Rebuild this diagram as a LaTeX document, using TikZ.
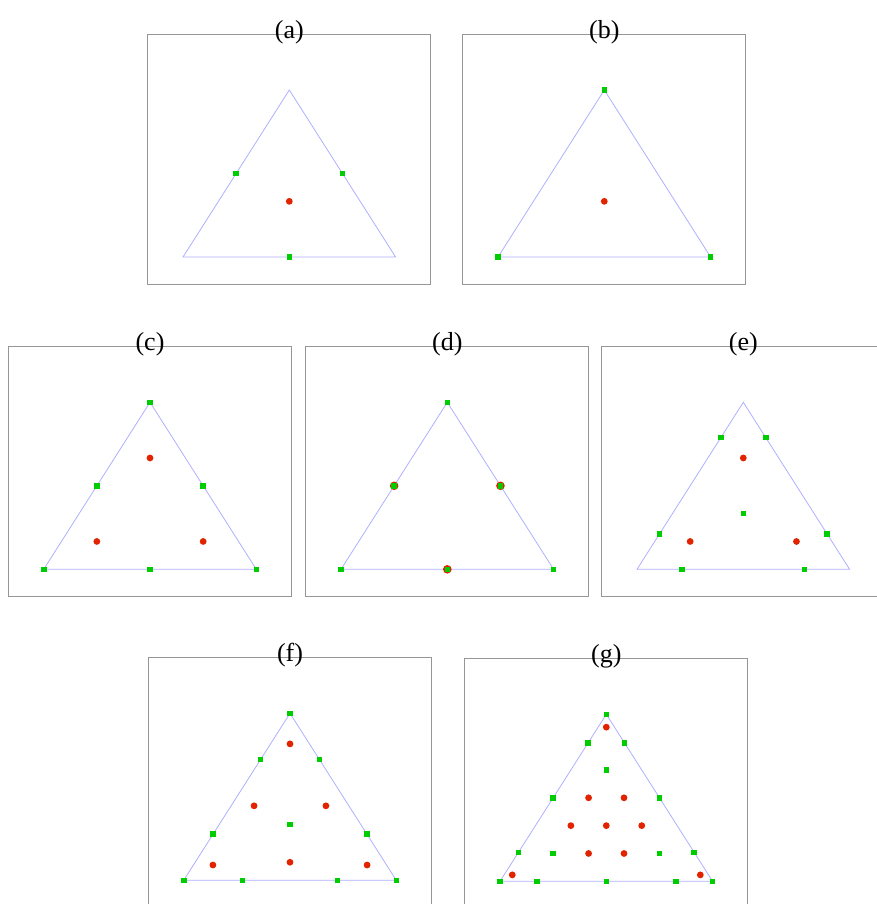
\documentclass[tikz,border=0pt]{standalone}
\usepackage{fontspec}
\setmainfont{Liberation Serif}
\definecolor{ptgreen}{RGB}{0,205,0}
\definecolor{ptred}{RGB}{225,35,0}
\definecolor{triblue}{RGB}{175,175,255}
\definecolor{framegray}{RGB}{150,150,150}
\tikzset{
  panelframe/.style={draw=framegray, line width=0.9pt},
  triline/.style={draw=triblue, line width=0.8pt},
  paneltitle/.style={anchor=base, inner sep=0pt, font=\fontsize{26}{30}\selectfont},
}
% barycentric helpers: #1 = weight of right vertex, #2 = weight of apex
\newcommand{\gsq}[2]{\fill[ptgreen] ({212.6*(#1+#2/2)-2.8},{167*(#2)-2.8}) rectangle ++(5.6,5.6);}
\newcommand{\rdot}[2]{\fill[ptred] ({212.6*(#1+#2/2)},{167*(#2)}) circle (3.4);}
\newcommand{\rring}[2]{\fill[ptred] ({212.6*(#1+#2/2)},{167*(#2)}) circle (4.3);}
\newcommand{\tripanel}[4]{%
  \draw[panelframe] (#1,#2) rectangle ++(283.5,250);
  \node[paneltitle] (#3) at ({#1+142},{#2+4.5}) {(#3)};
  \begin{scope}[shift={({#1+142-106.3},{#2+223})}, y=1pt]
    \draw[triline] (0,0) -- (212.6,0) -- (106.3,167) -- cycle;
    #4
  \end{scope}}
\begin{document}
\begin{tikzpicture}[x=1pt,y=-1pt]
\useasboundingbox (0,0) rectangle (877,904);
\clip (0,0) rectangle (877,904);
% (a)
\tripanel{147.3}{34}{a}{%
  \gsq{0.5}{0}\gsq{0}{0.5}\gsq{0.5}{0.5}
  \rdot{0.3333}{0.3333}}
% (b)
\tripanel{462.3}{34}{b}{%
  \gsq{0}{0}\gsq{1}{0}\gsq{0}{1}
  \rdot{0.3333}{0.3333}}
% (c)
\tripanel{8}{346.3}{c}{%
  \gsq{0}{0}\gsq{1}{0}\gsq{0}{1}
  \gsq{0.5}{0}\gsq{0}{0.5}\gsq{0.5}{0.5}
  \rdot{0.16667}{0.66667}\rdot{0.16667}{0.16667}\rdot{0.66667}{0.16667}}
% (d)
\tripanel{305.3}{346.3}{d}{%
  \rring{0.5}{0}\rring{0}{0.5}\rring{0.5}{0.5}
  \gsq{0}{0}\gsq{1}{0}\gsq{0}{1}
  \gsq{0.5}{0}\gsq{0}{0.5}\gsq{0.5}{0.5}}
% (e)
\tripanel{601.3}{346.3}{e}{%
  \gsq{0.21132}{0}\gsq{0.78868}{0}
  \gsq{0}{0.21132}\gsq{0}{0.78868}
  \gsq{0.78868}{0.21132}\gsq{0.21132}{0.78868}
  \gsq{0.33333}{0.33333}
  \rdot{0.16667}{0.66667}\rdot{0.16667}{0.16667}\rdot{0.66667}{0.16667}}
% (f)
\tripanel{148}{657.3}{f}{%
  \gsq{0}{0}\gsq{1}{0}\gsq{0}{1}
  \gsq{0.27639}{0}\gsq{0.72361}{0}
  \gsq{0}{0.27639}\gsq{0}{0.72361}
  \gsq{0.72361}{0.27639}\gsq{0.27639}{0.72361}
  \gsq{0.33333}{0.33333}
  \rdot{0.091576}{0.816848}\rdot{0.091576}{0.091576}\rdot{0.816848}{0.091576}
  \rdot{0.108103}{0.445948}\rdot{0.445948}{0.108103}\rdot{0.445948}{0.445948}}
% (g)
\tripanel{464.3}{658.3}{g}{%
  \gsq{0}{0}\gsq{1}{0}\gsq{0}{1}
  \gsq{0.17267}{0}\gsq{0.5}{0}\gsq{0.82733}{0}
  \gsq{0}{0.17267}\gsq{0}{0.5}\gsq{0}{0.82733}
  \gsq{0.82733}{0.17267}\gsq{0.5}{0.5}\gsq{0.17267}{0.82733}
  \gsq{0.16667}{0.66667}\gsq{0.16667}{0.16667}\gsq{0.66667}{0.16667}
  \rdot{0.0385}{0.923}\rdot{0.0385}{0.0385}\rdot{0.923}{0.0385}
  \rdot{0.33333}{0.33333}
  \rdot{0.16667}{0.5}\rdot{0.33333}{0.5}
  \rdot{0.16667}{0.33333}\rdot{0.5}{0.33333}
  \rdot{0.33333}{0.16667}\rdot{0.5}{0.16667}}
\end{tikzpicture}
\end{document}
